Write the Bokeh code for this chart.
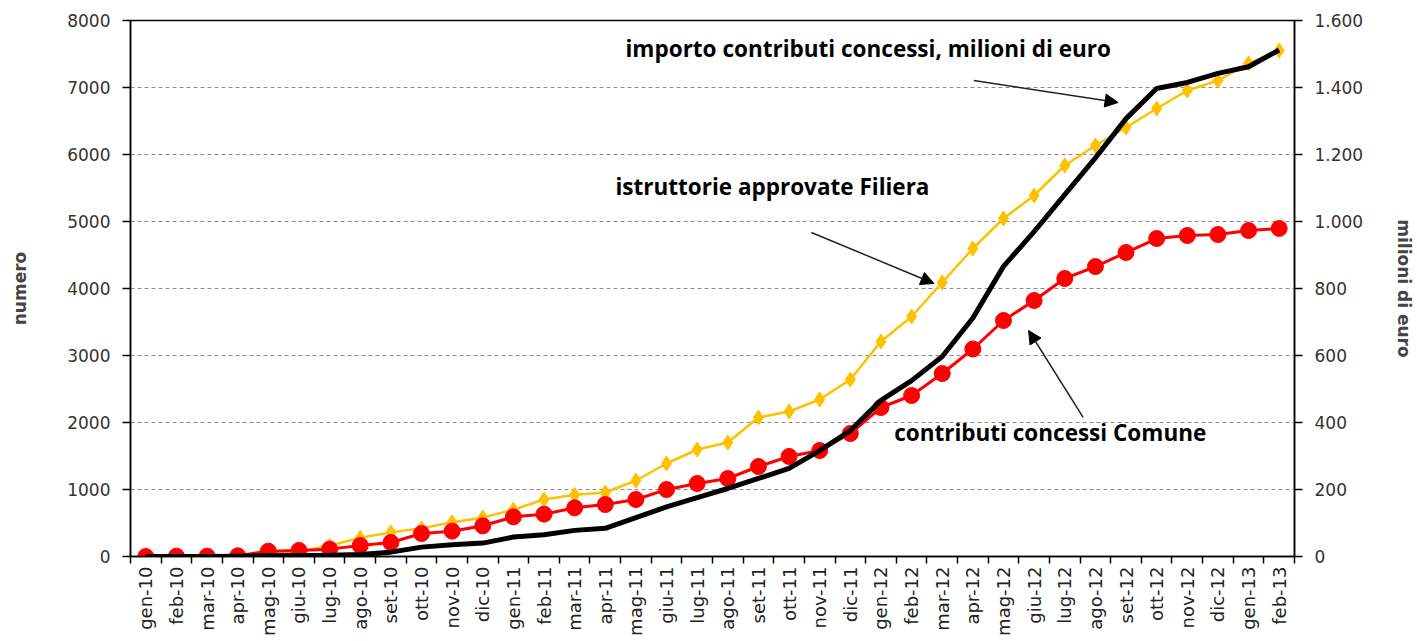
from math import pi
from bokeh.plotting import figure
from bokeh.models import Range1d, LinearAxis, FixedTicker, Label, Arrow, NormalHead
from bokeh.embed import file_html
from bokeh.resources import INLINE

mesi = ["gen-10", "feb-10", "mar-10", "apr-10", "mag-10", "giu-10", "lug-10", "ago-10",
        "set-10", "ott-10", "nov-10", "dic-10",
        "gen-11", "feb-11", "mar-11", "apr-11", "mag-11", "giu-11", "lug-11", "ago-11",
        "set-11", "ott-11", "nov-11", "dic-11",
        "gen-12", "feb-12", "mar-12", "apr-12", "mag-12", "giu-12", "lug-12", "ago-12",
        "set-12", "ott-12", "nov-12", "dic-12",
        "gen-13", "feb-13"]

# istruttorie approvate Filiera (numero, asse sinistro)
filiera = [0, 0, 0, 20, 50, 70, 160, 280, 360, 420, 510, 580,
           700, 850, 920, 955, 1134, 1388, 1597, 1701, 2075, 2164, 2343, 2642,
           3209, 3582, 4090, 4597, 5045, 5388, 5836, 6134, 6403, 6686, 6955, 7104,
           7358, 7552]

# contributi concessi Comune (numero, asse sinistro)
comune = [0, 5, 5, 10, 80, 90, 110, 164, 209, 343, 378, 458,
          592, 632, 726, 776, 851, 1000, 1090, 1164, 1343, 1493, 1582, 1836,
          2224, 2403, 2731, 3097, 3522, 3821, 4149, 4328, 4537, 4746, 4791, 4806,
          4866, 4896]

# importo contributi concessi (milioni di euro, asse destro)
importo = [0, 0, 0, 1, 2, 3, 4, 6, 13, 28, 35, 40,
           58, 65, 78, 84, 116, 148, 176, 203, 233, 263, 316, 376,
           466, 525, 597, 712, 866, 970, 1080, 1190, 1307, 1397, 1415, 1442,
           1462, 1512]

left_ticks = [0, 1000, 2000, 3000, 4000, 5000, 6000, 7000, 8000]
right_ticks = [0, 200, 400, 600, 800, 1000, 1200, 1400, 1600]
right_labels = ["0", "200", "400", "600", "800", "1.000", "1.200", "1.400", "1.600"]

x = list(range(len(mesi)))

p = figure(width=1417, height=641, output_backend="svg", toolbar_location=None,
           x_range=Range1d(-0.5, len(mesi) - 0.5), y_range=Range1d(0, 8000),
           min_border_left=130, min_border_right=121, min_border_top=20,
           min_border_bottom=85, background_fill_color="white",
           border_fill_color="white")
p.extra_y_ranges = {"euro": Range1d(0, 1600)}

p.outline_line_color = "black"
p.outline_line_width = 1.5
p.xgrid.visible = False
p.ygrid.ticker = FixedTicker(ticks=left_ticks[1:-1])
p.ygrid.grid_line_color = "#8c8c8c"
p.ygrid.grid_line_dash = "4 3"
p.ygrid.grid_line_width = 1

tick_font = "DejaVu Sans"
xa = p.xaxis[0]
xa.ticker = FixedTicker(ticks=x, minor_ticks=[i - 0.5 for i in range(len(mesi) + 1)])
xa.major_label_overrides = {i: m for i, m in enumerate(mesi)}
xa.major_label_orientation = pi / 2
xa.major_tick_out = 0
xa.major_tick_in = 0
xa.minor_tick_out = 7
xa.minor_tick_in = 0
xa.minor_tick_line_color = "black"
xa.minor_tick_line_width = 1.5
xa.axis_line_color = "black"
xa.axis_line_width = 1.5
xa.major_label_standoff = 3
xa.major_label_text_font = tick_font
xa.major_label_text_font_size = "18px"
xa.major_label_text_color = "#222222"

ya = p.yaxis[0]
ya.ticker = FixedTicker(ticks=left_ticks)
ya.major_tick_out = 8
ya.major_tick_in = 0
ya.minor_tick_line_color = None
ya.axis_line_width = 1.5
ya.major_tick_line_width = 1.5
ya.major_label_standoff = 12
ya.major_label_text_font = tick_font
ya.major_label_text_font_size = "17px"
ya.major_label_text_color = "#333333"
ya.axis_label = "numero"
ya.axis_label_text_font = tick_font
ya.axis_label_text_font_style = "bold"
ya.axis_label_text_font_size = "17px"
ya.axis_label_standoff = 34

ra = LinearAxis(y_range_name="euro", ticker=FixedTicker(ticks=right_ticks),
                major_label_overrides={t: l for t, l in zip(right_ticks, right_labels)})
ra.major_tick_out = 8
ra.major_tick_in = 0
ra.minor_tick_line_color = None
ra.axis_line_width = 1.5
ra.major_tick_line_width = 1.5
ra.major_label_standoff = 12
ra.major_label_text_font = tick_font
ra.major_label_text_font_size = "17px"
ra.major_label_text_color = "#333333"
ra.axis_label = "milioni di euro"
ra.axis_label_text_font = tick_font
ra.axis_label_text_font_style = "bold"
ra.axis_label_text_font_size = "17px"
ra.axis_label_standoff = 28
p.add_layout(ra, "right")

yellow = "#FFC000"
red = "#FF0000"
p.line(x, filiera, color=yellow, line_width=2.5)
p.scatter(x, filiera, marker="diamond", size=15, color=yellow)
p.line(x, comune, color=red, line_width=3)
p.scatter(x, comune, marker="circle", size=16, color=red)
p.line(x, importo, y_range_name="euro", color="black", line_width=5)

ann_font = "Open Sans"
for txt, lx, ly in [("importo contributi concessi, milioni di euro", 15.66, 7582),
                    ("istruttorie approvate Filiera", 15.33, 5522),
                    ("contributi  concessi Comune", 24.43, 1851)]:
    p.add_layout(Label(x=lx, y=ly, text=txt, text_font=ann_font, text_font_style="bold",
                       text_font_size="22.5px", text_color="black",
                       text_align="left", text_baseline="middle"))

for xs, ys, xe, ye in [(27.03, 7104, 31.74, 6776),
                       (21.73, 4836, 25.73, 4075),
                       (30.6, 2075, 28.82, 3373)]:
    p.add_layout(Arrow(end=NormalHead(size=13, fill_color="black", line_color="black"),
                       x_start=xs, y_start=ys, x_end=xe, y_end=ye,
                       line_color="#222222", line_width=1.5))

open("out.html", "w").write(file_html(p, INLINE))
